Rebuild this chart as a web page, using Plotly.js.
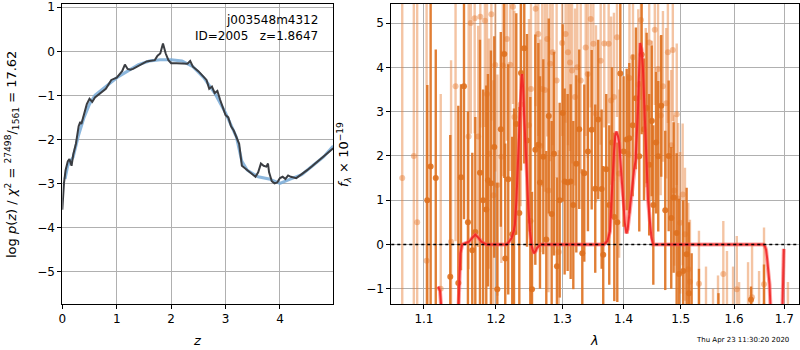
<!DOCTYPE html>
<html><head><meta charset="utf-8">
<script src="https://cdn.plot.ly/plotly-3.0.1.min.js"></script>
<style>body{margin:0;background:#fff}#c{width:800px;height:350px}</style>
</head><body><div id="c"></div>
<script>
// ---- left panel: log p(z) ----
const zGrid = [0,0.03,0.06,0.1,0.13,0.17,0.2,0.25,0.3,0.33,0.35,0.4,0.45,0.5,0.55,0.6,0.7,0.8,0.9,1.0,1.1,1.15,1.2,1.25,1.3,1.4,1.5,1.55,1.6,1.7,1.75,1.8,1.85,1.9,1.95,2.0,2.1,2.2,2.3,2.35,2.4,2.5,2.6,2.65,2.7,2.75,2.8,2.85,2.9,3.0,3.05,3.1,3.15,3.2,3.25,3.3,3.35,3.4,3.45,3.5,3.55,3.6,3.65,3.7,3.75,3.78,3.8,3.85,3.9,3.95,4.0,4.05,4.1,4.15,4.2,4.3,4.4,4.5,4.6,4.7,4.8,4.9,4.98];
const logpFit = [-3.6,-3.0,-2.7,-2.5,-2.45,-2.6,-2.35,-2.1,-1.7,-1.6,-1.65,-1.4,-1.2,-1.08,-1.15,-1.05,-0.95,-0.85,-0.65,-0.6,-0.45,-0.3,-0.4,-0.42,-0.4,-0.33,-0.25,-0.23,-0.22,-0.2,-0.1,-0.05,0.18,-0.05,-0.2,-0.27,-0.27,-0.28,-0.28,-0.22,-0.35,-0.45,-0.6,-0.65,-0.85,-0.8,-0.95,-0.9,-1.1,-1.45,-1.5,-1.7,-1.8,-1.95,-2.1,-2.6,-2.65,-2.7,-2.75,-2.8,-2.85,-2.75,-2.55,-2.6,-2.62,-2.55,-2.75,-2.95,-3.0,-2.98,-2.88,-2.85,-2.9,-2.82,-2.85,-2.88,-2.8,-2.7,-2.6,-2.5,-2.4,-2.28,-2.2];
const zSmooth = [0.05,0.1,0.2,0.3,0.4,0.5,0.6,0.8,1.0,1.2,1.4,1.6,1.8,2.0,2.2,2.4,2.6,2.8,3.0,3.2,3.3,3.4,3.6,3.8,4.0,4.2,4.4,4.6,4.8,4.98];
const logpSmooth = [-2.9,-2.6,-2.4,-1.9,-1.5,-1.2,-1.0,-0.8,-0.6,-0.45,-0.3,-0.22,-0.19,-0.19,-0.22,-0.35,-0.6,-0.95,-1.4,-1.95,-2.5,-2.7,-2.85,-2.9,-3.0,-2.9,-2.8,-2.6,-2.4,-2.15];

// ---- right panel: spectrum ----
const lamA = [1.1044,1.1089,1.1158,1.1355,1.1466,1.1503,1.1545,1.1600,1.1661,1.1704,1.1770,1.1815,1.1860,1.1884,1.1927,1.1975,1.2019,1.2070,1.2121,1.2135,1.2179,1.2238,1.2264,1.2298,1.2343,1.2368,1.2417,1.2458,1.2508,1.2534,1.2584,1.2630,1.2655,1.2706,1.2752,1.2790,1.2835,1.2871,1.2917,1.2960,1.3007,1.3038,1.3085,1.3133,1.3175,1.3223,1.3270,1.3319,1.3351,1.3410,1.3471,1.3529,1.3578,1.3634,1.3660,1.3710,1.3760,1.3805,1.3844,1.3894,1.3945,1.4000,1.4053,1.4097,1.4155,1.4210,1.4268,1.4309,1.4350,1.4396,1.4440,1.4484,1.4512,1.4560,1.4599,1.4652,1.4723,1.4784,1.4830,1.4873,1.4927,1.4970,1.5046,1.5108,1.5150,1.5200,1.5335,1.5450,1.5600,1.5700,1.5900,1.6100,1.6330,1.6589,1.6800];
const fluxA = [1.0,1.76,1.5,-0.73,-0.87,1.52,3.57,0.5,-0.13,0.28,1.62,1.0,0.79,1.45,1.38,2.2,-1.01,2.6,4.3,-0.32,1.47,0.23,0.27,2.72,0.71,3.87,4.43,2.35,0.53,-1.01,2.14,2.25,1.4,1.98,0.11,2.9,0.69,2.05,-0.49,1.0,2.97,1.42,1.40,1.42,0.89,1.82,2.6,-0.20,1.61,2.1,2.59,1.26,2.82,1.25,-0.23,1.7,0.89,2.3,0.62,0.5,3.86,2.1,2.37,2.4,2.69,3.3,1.99,4.29,2.6,3.08,1.8,2.79,0.89,2.3,1.99,3.13,0.77,2.0,0.6,1.06,0.26,-0.67,-0.6,-0.22,-1.1,-1.8,-2.3,-3.0,-3.0,-2.5,-3.0,-3.0,-1.25,-1.4,-3.0];
const errA = [2.6,6,2.9,3.2,4,2.1,3,2.5,2.2,2.6,3,2.5,2.8,2.4,3,2.5,2.4,2.2,2.8,2.6,2.6,2.2,2.8,2.5,2.4,2.2,2.6,2.4,2.8,2.2,2.6,2.3,2.4,2.2,2.0,2.2,2.1,2.3,2.0,2.2,2.0,2.1,2.0,2.2,1.9,2.0,1.8,1.9,2.0,1.8,1.8,1.9,1.8,1.8,2.0,1.7,1.8,1.7,1.9,1.8,1.8,1.7,1.6,1.7,1.6,1.6,1.7,1.8,1.6,1.7,1.6,1.7,1.8,1.6,1.7,1.6,1.8,1.7,1.6,1.7,1.8,1.7,1.6,1.5,1.6,1.6,1.75,1.0,1.0,1.4,1.0,1.0,0.3,0.95,1.0];

const lamB = [1.0715,1.0866,1.0910,1.1035,1.1225,1.1366,1.1428,1.1610,1.1640,1.1695,1.1745,1.1775,1.1840,1.1870,1.1898,1.1933,1.1962,1.1990,1.2020,1.2078,1.2100,1.2160,1.2209,1.2249,1.2270,1.2363,1.2488,1.2518,1.2589,1.2629,1.2660,1.2690,1.2730,1.2767,1.2785,1.2813,1.2850,1.2912,1.2945,1.2999,1.3053,1.3090,1.3122,1.3155,1.3202,1.3239,1.3293,1.3374,1.3407,1.3455,1.3498,1.3541,1.3618,1.3677,1.3750,1.3790,1.3838,1.3889,1.3925,1.4070,1.4100,1.4160,1.4251,1.4297,1.4380,1.4440,1.4486,1.4538,1.4595,1.4642,1.4682,1.4741,1.4770,1.4830,1.4858,1.4885,1.4929,1.4955,1.4990,1.5036,1.5078,1.5138,1.5169,1.5335,1.5466,1.5598,1.5692,1.5793,1.5863,1.5980,1.6052,1.6097,1.6193,1.6272,1.6351,1.6490,1.6589,1.6710,1.7075];
const fluxB = [1.5,2.0,0.5,-0.37,-1.0,0.06,3.57,2.44,5.0,5.11,2.44,5.14,5.05,3.4,2.05,5.2,1.11,4.05,1.34,1.98,4.04,4.64,4.06,5.37,2.88,3.16,2.69,3.51,5.32,4.75,2.23,3.51,3.49,4.64,1.22,4.08,4.34,3.7,-0.17,4.55,4.75,4.34,4.11,3.93,3.33,4.0,3.7,4.45,3.85,5.09,4.53,2.95,4.15,4.54,4.53,3.25,3.33,4.68,1.6,2.05,3.76,4.23,3.61,5.07,3.09,4.56,2.8,4.85,3.96,2.91,3.57,3.19,4.34,2.24,4.39,1.22,2.94,1.04,0.49,1.13,0.23,-0.56,-0.84,-0.89,-2.0,-2.5,-1.8,-0.67,-1.6,-1.9,-1.01,-2.0,-2.5,-1.6,-1.19,-1.8,-0.9,-3.0,-2.1];
const errB = [8,8,8,6,4.4,4.1,3.5,3.0,2.5,2.6,2.5,2.5,2.4,2.6,2.6,2.4,2.6,2.4,2.5,2.4,2.5,2.3,2.4,2.2,2.4,2.3,2.4,2.3,2.2,2.3,2.4,2.2,2.3,2.2,2.3,2.2,2.1,2.2,2.3,2.1,2.0,2.1,2.0,2.1,2.0,2.0,2.1,2.0,1.9,2.0,1.9,2.0,1.9,1.9,1.8,1.9,1.9,1.8,1.9,1.8,1.8,1.8,1.7,1.8,1.8,1.7,1.8,1.7,1.7,1.8,1.7,1.7,1.6,1.7,1.6,1.7,1.6,1.7,1.6,1.6,1.5,1.5,1.4,1.2,1.5,1.5,1.1,1.2,1.45,1.4,1.2,1.15,1.0,1.2,1.17,1.2,1.28,1.0,1.25];

const lamModel = [1.1190,1.1215,1.1240,null,1.1465,1.1480,1.1495,1.1520,1.1560,1.1614,1.1660,1.1704,1.1750,1.1791,1.1863,1.2157,1.2200,1.2229,1.2260,1.2277,1.2300,1.2316,1.2335,1.2350,1.2370,1.2384,1.2398,1.2413,1.2435,1.2457,1.2480,1.2503,1.2530,1.2561,1.2590,1.2610,1.2640,1.2664,1.3672,1.3730,1.3772,1.3795,1.3816,1.3840,1.3860,1.3880,1.3905,1.3925,1.3960,1.3992,1.4020,1.4047,1.4070,1.4091,1.4120,1.4148,1.4180,1.4205,1.4225,1.4244,1.4265,1.4285,1.4308,1.4330,1.4360,1.4387,1.4420,1.4454,1.4480,1.4508,1.6577,1.6610,1.6630,1.6650,1.6668,1.6700,1.6726,null,1.6960,1.6975,1.6990];
const fModel = [-0.95,-1.05,-1.6,null,-1.6,-0.8,-0.2,0,0.03,0.06,0.15,0.22,0.15,0.06,0,0,0.08,0.15,0.3,0.45,1.0,1.6,2.4,3.0,3.6,3.85,3.6,3.0,2.2,1.5,0.8,0.3,-0.05,-0.2,-0.15,-0.08,-0.02,0,0,0.08,0.3,0.8,1.5,2.1,2.45,2.55,2.45,2.3,1.6,1.0,0.5,0.25,0.35,0.6,1.0,1.4,1.7,1.9,2.4,3.0,3.9,4.55,4.4,4.0,3.0,2.0,1.0,0.5,0.15,0,0,-0.05,-0.12,-0.3,-0.5,-0.9,-1.6,null,-1.6,-0.6,-0.1];

const zTicks = [0,1,2,3,4];
const pTicks = [-5,-4,-3,-2,-1,0,1];
const lamTicks = [1.1,1.2,1.3,1.4,1.5,1.6,1.7];
const fTicks = [-1,0,1,2,3,4,5];

const darkC = 'rgba(222,112,30,0.9)';
const lightC = 'rgba(230,125,50,0.45)';

const traces = [
  {x: zSmooth, y: logpSmooth, xaxis:'x', yaxis:'y', mode:'lines', line:{color:'rgba(120,170,215,0.85)', width:3}, hoverinfo:'skip'},
  {x: zGrid, y: logpFit, xaxis:'x', yaxis:'y', mode:'lines', line:{color:'#3a3d42', width:2}, hoverinfo:'skip'},
  {x: lamB, y: fluxB, xaxis:'x2', yaxis:'y2', mode:'markers', marker:{size:6, color:lightC},
   error_y:{type:'data', array: errB, visible:true, thickness:2.4, width:0, color:lightC}},
  {x: lamA, y: fluxA, xaxis:'x2', yaxis:'y2', mode:'markers', marker:{size:6, color:darkC},
   error_y:{type:'data', array: errA, visible:true, thickness:2.4, width:0, color:darkC}},
  {x: lamModel, y: fModel, xaxis:'x2', yaxis:'y2', mode:'lines', connectgaps:false, line:{color:'rgba(255,90,90,0.55)', width:4}, hoverinfo:'skip'},
  {x: lamModel, y: fModel, xaxis:'x2', yaxis:'y2', mode:'lines', connectgaps:false, line:{color:'rgba(240,30,30,0.85)', width:2}, hoverinfo:'skip'}
];

const font = {family:'DejaVu Sans, sans-serif', size:12, color:'#000'};
const axBase = {showline:true, mirror:true, linecolor:'#000', linewidth:1, ticks:'outside', ticklen:4, tickwidth:1, tickcolor:'#000',
  showgrid:true, gridcolor:'#b0b0b0', gridwidth:1, zeroline:false, tickfont:{family:'DejaVu Sans, sans-serif', size:12, color:'#000'}};

const layout = {
  width:800, height:350, margin:{l:0,r:0,t:0,b:0}, paper_bgcolor:'#fff', plot_bgcolor:'#fff', showlegend:false, font:font,
  xaxis: Object.assign({}, axBase, {domain:[0.0779,0.4166], range:[0,4.98], tickvals:zTicks, anchor:'y'}),
  yaxis: Object.assign({}, axBase, {domain:[0.1314,0.9886], range:[-5.74,1.075], tickvals:pTicks, anchor:'x'}),
  xaxis2: Object.assign({}, axBase, {domain:[0.4891,0.9991], type:'log', range:[Math.log10(1.0574), Math.log10(1.7311)], tickvals:lamTicks, ticktext:lamTicks.map(v=>v.toFixed(1)), anchor:'y2'}),
  yaxis2: Object.assign({}, axBase, {domain:[0.1314,0.9886], range:[-1.345,5.43], tickvals:fTicks, anchor:'x2'}),
  shapes:[{type:'line', xref:'x2 domain', yref:'y2', x0:0, x1:1, y0:0, y1:0, line:{color:'#000', width:1.5, dash:'dot'}}],
  annotations:[
    {text:'j003548m4312', xref:'paper', yref:'paper', x:320/800, y:1-20/350, xanchor:'right', yanchor:'middle', showarrow:false, font:{family:'DejaVu Sans, sans-serif', size:12, color:'#000'}},
    {text:'ID=2005\u00a0\u00a0\u00a0z=1.8647', xref:'paper', yref:'paper', x:320/800, y:1-36/350, xanchor:'right', yanchor:'middle', showarrow:false, font:{family:'DejaVu Sans, sans-serif', size:12, color:'#000'}},
    {text:'log <i>p</i>(<i>z</i>) / <i>χ</i><sup>2</sup> = <sup>27498</sup>/<sub>1561</sub> = 17.62', xref:'paper', yref:'paper', x:12/800, y:1-155/350, textangle:-90, xanchor:'center', yanchor:'middle', showarrow:false, font:{family:'DejaVu Sans, sans-serif', size:13, color:'#000'}},
    {text:'<i>z</i>', xref:'paper', yref:'paper', x:197/800, y:1-340/350, xanchor:'center', yanchor:'middle', showarrow:false, font:{family:'DejaVu Sans, sans-serif', size:13, color:'#000'}},
    {text:'<i>f</i><sub><i>λ</i></sub> × 10<sup>−19</sup>', xref:'paper', yref:'paper', x:344/800, y:1-155/350, textangle:-90, xanchor:'center', yanchor:'middle', showarrow:false, font:{family:'DejaVu Sans, sans-serif', size:13, color:'#000'}},
    {text:'<i>λ</i>', xref:'paper', yref:'paper', x:594/800, y:1-340/350, xanchor:'center', yanchor:'middle', showarrow:false, font:{family:'DejaVu Sans, sans-serif', size:13, color:'#000'}},
    {text:'Thu Apr 23 11:30:20 2020', xref:'paper', yref:'paper', x:742/800, y:1-340/350, xanchor:'center', yanchor:'middle', showarrow:false, font:{family:'DejaVu Sans, sans-serif', size:7, color:'#000'}}
  ]
};
Plotly.newPlot('c', traces, layout, {staticPlot:true, displayModeBar:false});
</script></body></html>
